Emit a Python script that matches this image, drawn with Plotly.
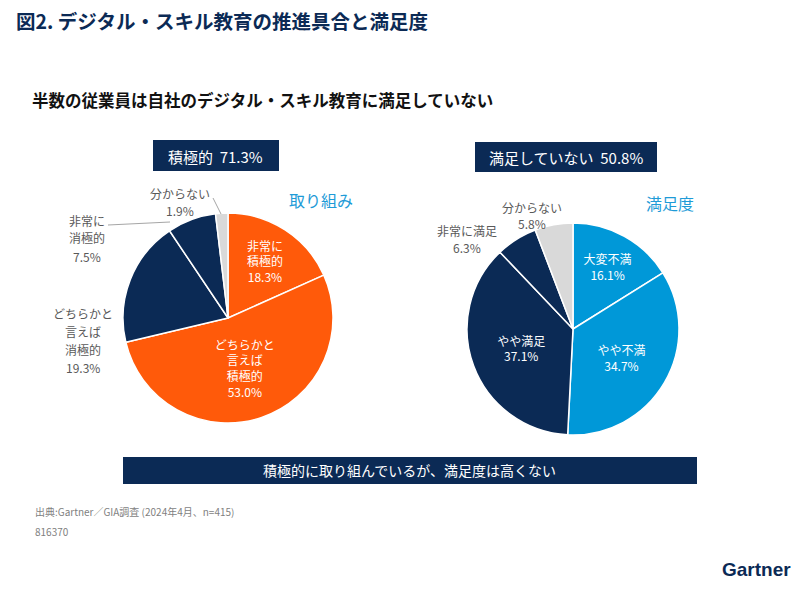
import plotly.graph_objects as go

W, H = 805, 591

# ---- data ----
left_labels = ["非常に積極的", "どちらかと言えば積極的", "どちらかと言えば消極的", "非常に消極的", "分からない"]
left_values = [18.3, 53.0, 19.3, 7.5, 1.9]
left_colors = ["#FF5A0A", "#FF5A0A", "#0B2A55", "#0B2A55", "#D9D9D9"]
left_text = ["非常に<br>積極的<br>18.3%", "どちらかと<br>言えば<br>積極的<br>53.0%", "", "", ""]
left_pos = ["inside", "inside", "none", "none", "none"]

right_labels = ["大変不満", "やや不満", "やや満足", "非常に満足", "分からない"]
right_values = [16.1, 34.7, 37.1, 6.3, 5.8]
right_colors = ["#0098D8", "#0098D8", "#0B2A55", "#0B2A55", "#D9D9D9"]
right_text = ["大変不満<br>16.1%", "やや不満<br>34.7%", "やや満足<br>37.1%", "", ""]
right_pos = ["inside", "inside", "inside", "none", "none"]

FONT = "Noto Sans CJK JP"
NAVY = "#0B2A55"
GRAY = "#595959"


def px(x):
    return x / W


def py(y):
    return 1 - y / H


def pie_domain(cx, cy, r):
    return dict(x=[px(cx - r), px(cx + r)], y=[py(cy + r), py(cy - r)])


fig = go.Figure()
fig.add_trace(go.Pie(
    labels=left_labels, values=left_values, sort=False, direction="clockwise", rotation=0,
    marker=dict(colors=left_colors, line=dict(color="white", width=1.5)),
    text=left_text, texttemplate="%{text}", textposition=left_pos,
    insidetextorientation="horizontal",
    insidetextfont=dict(color="white", size=12, family=FONT),
    domain=pie_domain(228, 318, 105), showlegend=False, hoverinfo="label+value",
))
fig.add_trace(go.Pie(
    labels=right_labels, values=right_values, sort=False, direction="clockwise", rotation=0,
    marker=dict(colors=right_colors, line=dict(color="white", width=1.5)),
    text=right_text, texttemplate="%{text}", textposition=right_pos,
    insidetextorientation="horizontal",
    insidetextfont=dict(color="white", size=12, family=FONT),
    domain=pie_domain(573, 329, 106), showlegend=False, hoverinfo="label+value",
))

shapes = []
ann = []


def text(x, y, s, size=12, color=GRAY, xanchor="center", bold=False, family=FONT):
    ann.append(dict(x=px(x), y=py(y), xref="paper", yref="paper", text=(f"<b>{s}</b>" if bold else s),
                    showarrow=False, xanchor=xanchor, yanchor="middle",
                    font=dict(size=size, color=color, family=family)))


def rect(x0, y0, x1, y1, color=NAVY):
    shapes.append(dict(type="rect", xref="paper", yref="paper", x0=px(x0), x1=px(x1),
                       y0=py(y1), y1=py(y0), fillcolor=color, line=dict(width=0), layer="below"))


def line(x0, y0, x1, y1, color="#A6A6A6"):
    shapes.append(dict(type="line", xref="paper", yref="paper", x0=px(x0), x1=px(x1),
                       y0=py(y0), y1=py(y1), line=dict(color=color, width=1)))


# titles
text(14, 20, "図2. デジタル・スキル教育の推進具合と満足度", size=19.5, color=NAVY, xanchor="left", bold=True)
text(30, 100, "半数の従業員は自社のデジタル・スキル教育に満足していない", size=16.5, color="#111111", xanchor="left", bold=True)

# summary boxes
rect(153, 140, 279, 171)
text(216, 156, "積極的  71.3%", size=15, color="white")
rect(475, 142, 657, 172)
text(566, 157, "満足していない  50.8%", size=15, color="white")

text(321, 200, "取り組み", size=16, color="#1E9BD7")
text(670, 203, "満足度", size=16, color="#1E9BD7")

# left outside labels
text(180, 193, "分からない", size=12)
text(180, 211, "1.9%", size=12)
line(213, 198, 221, 214)
text(87, 220, "非常に", size=12)
text(87, 238, "消極的", size=12)
text(87, 256, "7.5%", size=12)
line(108, 225, 170, 222)
for i, s in enumerate(["どちらかと", "言えば", "消極的", "19.3%"]):
    text(83, 313 + i * 18, s, size=12)

# right outside labels
text(532, 207, "分からない", size=12)
text(532, 223, "5.8%", size=12)
text(467, 230, "非常に満足", size=12)
text(467, 247, "6.3%", size=12)

# bottom banner
rect(123, 457, 697, 484)
text(410, 470, "積極的に取り組んでいるが、満足度は高くない", size=14, color="white")

# footer
text(33, 511, "出典:Gartner／GIA調査 (2024年4月、n=415)", size=10, color="#7F7F7F", xanchor="left")
text(33, 531, "816370", size=10, color="#7F7F7F", xanchor="left")
text(793, 569, "Gartner", size=19, color=NAVY, xanchor="right", bold=True, family="Liberation Sans Narrow, Liberation Sans, Arial")

fig.update_layout(
    width=W, height=H, margin=dict(l=0, r=0, t=0, b=0),
    paper_bgcolor="white", plot_bgcolor="white",
    shapes=shapes, annotations=ann, font=dict(family=FONT),
)

fig.write_html("out.html", config={"displayModeBar": False})

# remove default browser body margin so the figure sits at (0,0)
with open("out.html", encoding="utf-8") as f:
    html = f.read()
html = html.replace("<body>", '<body style="margin:0;padding:0;overflow:hidden">', 1)
with open("out.html", "w", encoding="utf-8") as f:
    f.write(html)
